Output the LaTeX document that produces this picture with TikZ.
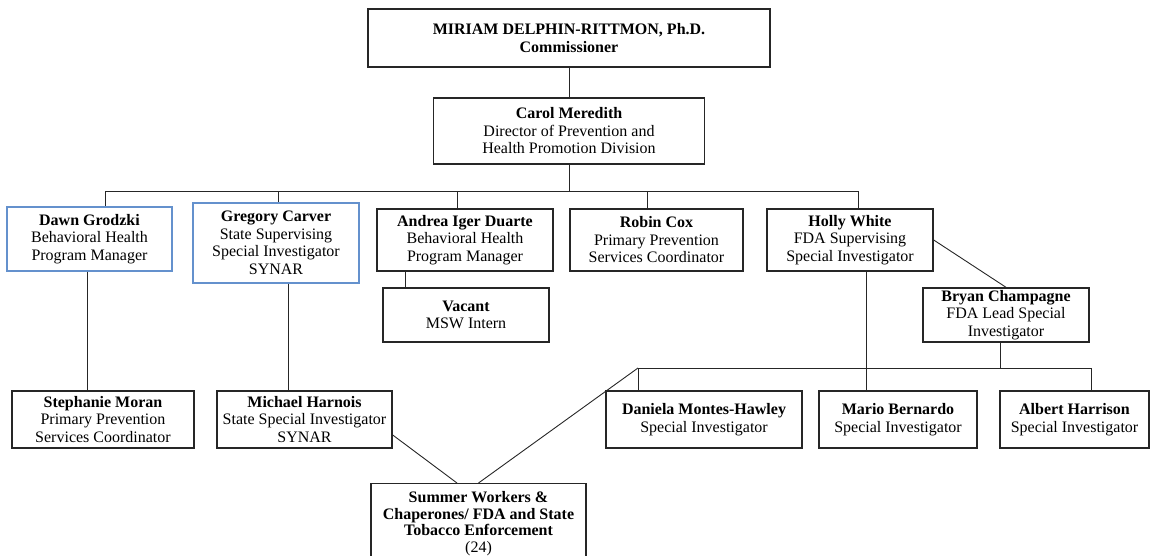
\documentclass[tikz,border=0pt]{standalone}
\usepackage{fontspec}
\setmainfont{Liberation Serif}
\definecolor{boxblue}{RGB}{100,145,205}
\begin{document}
\begin{tikzpicture}[
        x=1pt, y=-1pt, % pixel-like units, y grows downwards
        every node/.style={font=\fontsize{16}{17.5}\selectfont, align=center, inner sep=1.5pt},
        staff/.style n args={2}{draw=black!85, line width=1.4pt, minimum width=#1, minimum height=#2},
        bluestaff/.style={draw=boxblue, line width=1.2pt},
        link/.style={draw=black!85, line width=0.9pt}
    ]
    \useasboundingbox (0,0) rectangle (1150,556);
    \clip (0,0) rectangle (1150,556);

    % top of the chart
    \node[staff={402}{58}] (comm) at (569,38) {\textbf{MIRIAM DELPHIN-RITTMON, Ph.D.}\\\textbf{Commissioner}};
    \node[staff={271}{66}] (carol) at (569,131) {\textbf{Carol Meredith}\\Director of Prevention and\\Health Promotion Division};

    % second row
    \node[staff={165}{64}, bluestaff] (dawn) at (89.5,239) {\textbf{Dawn Grodzki}\\Behavioral Health\\Program Manager};
    \node[staff={166}{80}, bluestaff] (gregory) at (276,243) {\textbf{Gregory Carver}\\State Supervising\\Special Investigator\\SYNAR};
    \node[staff={176}{62}] (andrea) at (465,240) {\textbf{Andrea Iger Duarte}\\Behavioral Health\\Program Manager};
    \node[staff={173}{62}] (robin) at (656.5,240) {\textbf{Robin Cox}\\Primary Prevention\\Services Coordinator};
    \node[staff={166}{62}] (holly) at (850,240) {\textbf{Holly White}\\FDA Supervising\\Special Investigator};
    \node[staff={166}{54}] (vacant) at (466,315) {\textbf{Vacant}\\MSW Intern};
    \node[staff={166}{54}] (bryan) at (1006,315) {\textbf{Bryan Champagne}\\FDA Lead Special\\Investigator};

    % investigators and coordinators
    \node[staff={182}{57}] (stephanie) at (103,419.5) {\textbf{Stephanie Moran}\\Primary Prevention\\Services Coordinator};
    \node[staff={175}{57}] (michael) at (304.5,419.5) {\textbf{Michael Harnois}\\State Special Investigator\\SYNAR};
    \node[staff={196}{57}] (daniela) at (704,419.5) {\textbf{Daniela Montes-Hawley}\\Special Investigator};
    \node[staff={158}{57}] (mario) at (898,419.5) {\textbf{Mario Bernardo}\\Special Investigator};
    \node[staff={149}{57}] (albert) at (1074.5,419.5) {\textbf{Albert Harrison}\\Special Investigator};
    \node[staff={215}{80}, anchor=north, font=\fontsize{16}{16.8}\selectfont] (summer) at (478.5,483) {\textbf{Summer Workers \&}\\\textbf{Chaperones/ FDA and State}\\\textbf{Tobacco Enforcement}\\(24)};

    % connectors
    \coordinate (busL) at (105,191);
    \coordinate (busR) at (858,191);
    \coordinate (lowL) at (638,368);
    \coordinate (lowR) at (1091,368);
    \draw[link] (comm.south) -- (comm.south |- carol.north);
    \draw[link] (carol.south) -- (carol.south |- busL);
    \draw[link] (busL) -- (busR);
    \foreach \n/\x in {dawn/105, gregory/278, andrea/457, robin/647, holly/858}
        \draw[link] (\x,191) coordinate (drop-\n) -- (drop-\n |- \n.north);
    \foreach \a/\b/\d in {dawn/stephanie/-2.5, gregory/michael/12, andrea/vacant/-60, holly/mario/16}
        \draw[link] (\a.south) ++(\d,0) coordinate (foot-\a) -- (foot-\a |- \b.north);
    \draw[link] (holly.east) -- (bryan.north);
    \draw[link] (bryan.south) ++(-6,0) coordinate (foot-bryan) -- (foot-bryan |- lowL);
    \draw[link] (lowL) -- (lowR);
    \draw[link] (lowL) -- (lowL |- daniela.north);
    \draw[link] (lowR) -- (lowR |- albert.north);
    \draw[link] (lowL) -- (summer.north);
    \draw[link] ([yshift=-15.5pt]michael.east) -- ([xshift=-21.5pt]summer.north);
\end{tikzpicture}
\end{document}
